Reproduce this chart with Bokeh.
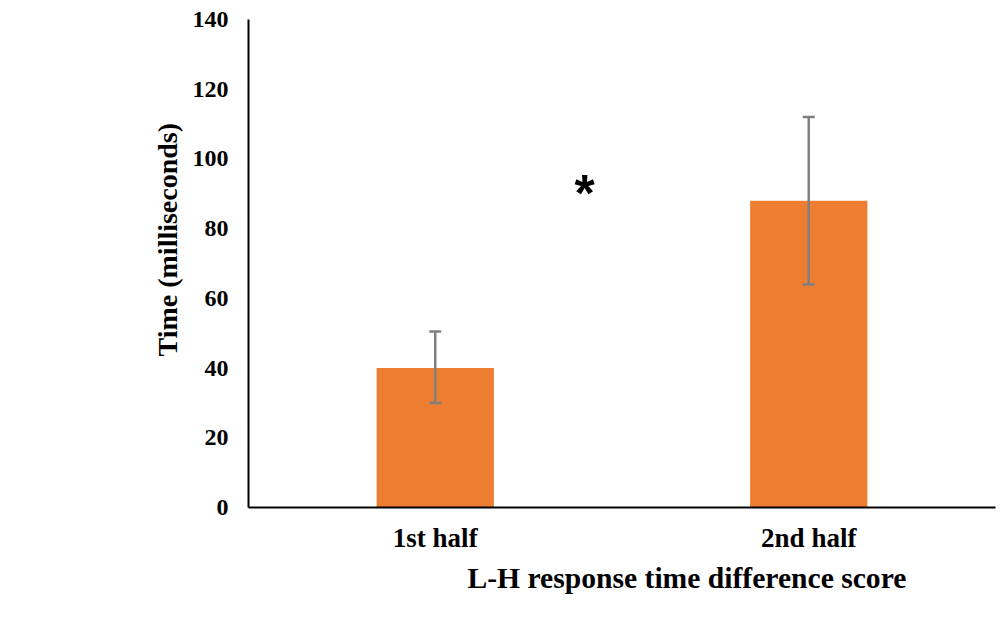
from bokeh.plotting import figure
from bokeh.models import Range1d, FixedTicker, ColumnDataSource, Whisker, Title
from bokeh.embed import file_html
from bokeh.resources import INLINE

categories = ["1st half", "2nd half"]
means = [40, 88]
err_lower = [30, 64]
err_upper = [50.5, 112]
y_ticks = [0, 20, 40, 60, 80, 100, 120, 140]
sig_x = 0.9
sig_y = 90.3
sig_text = "*"
x_title = "L-H response time difference score"
y_title = "Time (milliseconds)"

x_pos = [i + 0.5 for i in range(len(categories))]

p = figure(width=1000, height=632, x_range=Range1d(0, len(categories)),
           y_range=Range1d(0, 140), output_backend="svg", toolbar_location=None,
           min_border_left=248, min_border_right=5, min_border_top=19,
           min_border_bottom=125)
p.outline_line_color = None
p.background_fill_color = "white"
p.border_fill_color = "white"
p.xgrid.visible = False
p.ygrid.visible = False

src = ColumnDataSource(dict(x=x_pos, top=means, lo=err_lower, hi=err_upper))
p.vbar(x="x", top="top", width=0.314, bottom=0, source=src,
       fill_color="#ED7D31", line_color=None)

w = Whisker(source=src, base="x", lower="lo", upper="hi",
            line_color="#7f7f7f", line_width=2.5, level="overlay")
for h in (w.upper_head, w.lower_head):
    h.size = 12
    h.line_color = "#7f7f7f"
    h.line_width = 2.5
p.add_layout(w)

p.text(x=[sig_x], y=[sig_y], text=[sig_text], text_align="center",
       text_baseline="middle", text_font_size="52px",
       text_font_style="bold", text_color="black",
       text_font={"value": "Liberation Sans"})

font = "Liberation Serif"
for ax in (p.xaxis[0], p.yaxis[0]):
    ax.major_tick_line_color = None
    ax.minor_tick_line_color = None
    ax.major_tick_in = 0
    ax.major_tick_out = 0
    ax.axis_line_color = "black"
    ax.axis_line_width = 2
    ax.major_label_text_font = font
    ax.major_label_text_font_style = "bold"
    ax.major_label_text_color = "black"

p.yaxis.ticker = FixedTicker(ticks=y_ticks)
p.yaxis.major_label_text_font_size = "24px"
p.yaxis.major_label_standoff = 20

p.xaxis.ticker = FixedTicker(ticks=x_pos)
p.xaxis.major_label_overrides = {x: c for x, c in zip(x_pos, categories)}
p.xaxis.major_label_text_font_size = "27px"
p.xaxis.major_label_standoff = 15


def spacer(size):
    # blank panel that only pushes the axis title outward
    return Title(text=" ", standoff=size, text_font_size="1px", text_alpha=0)


p.add_layout(spacer(34), "below")
p.add_layout(spacer(141), "left")

# axis titles, placed off-centre as in the reference
p.add_layout(Title(text=x_title, align="left", offset=219, standoff=8,
                   vertical_align="bottom",
                   text_font=font, text_font_style="bold",
                   text_font_size="29.6px", text_color="black"), "below")
p.add_layout(Title(text=y_title, align="left", offset=151, standoff=10,
                   vertical_align="top",
                   text_font=font, text_font_style="bold",
                   text_font_size="28px", text_color="black"), "left")

open("out.html", "w").write(file_html(p, INLINE))
